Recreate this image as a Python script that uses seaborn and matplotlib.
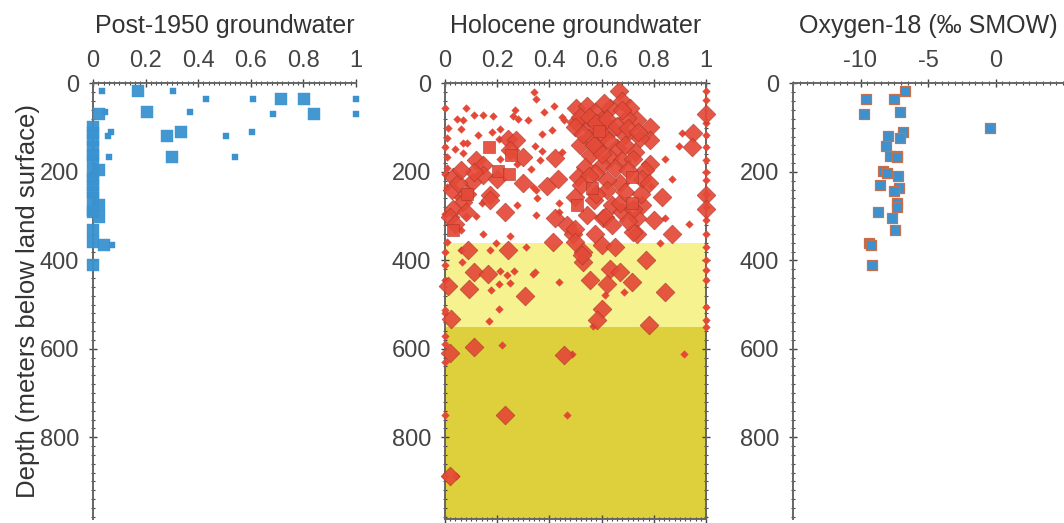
import numpy as np
import pandas as pd
import matplotlib
matplotlib.use("Agg")
import matplotlib.pyplot as plt
import seaborn as sns
from matplotlib.ticker import MultipleLocator

# --- Post-1950 groundwater fraction (squares) ---
post_big_frac = [0.17, 0.714, 0.802, 0.023, 0.207, 0.84, 0.283, 0.336, 0.30,
                 0, 0, 0, 0, 0, 0, 0.024, 0, 0, 0, 0, 0, 0.024, 0, 0.024, 0, 0, 0, 0.04, 0]
post_big_depth = [18, 35, 35, 68, 65, 68, 118, 109, 167,
                  98, 112, 128, 143, 162, 173, 196, 200, 215, 230, 245, 260, 275, 286, 302, 290, 332, 358, 366, 411]
post_small_frac = [0.035, 0.304, 0.43, 0.61, 1.0, 0.046, 0.37, 0.684, 1.0, 0.068, 0.056, 0.504, 0.606,
                   0.061, 0.539, 0.071]
post_small_depth = [18, 18, 35, 35, 35, 65, 65, 68, 68, 109, 118, 118, 109, 167, 167, 366]

# --- Holocene groundwater fraction (diamonds + a few squares) ---
holo_big_frac = [0.243, 0.272, 0.119, 0.147, 0.300, 0.420, 0.147, 0.102, 0.300, 0.392, 0.434, 0.030,
                 0.026, 0.083, 0.070, 0.172, 0.172, 0.230, 0.032, 0.020, 0.420, 0.466, 0.490, 0.413,
                 0.090, 0.243, 0.110, 0.166, 0.093, 0.013, 0.306, 0.022, 0.019, 0.110, 0.456, 0.231, 0.019,
                 0.500, 0.500, 0.668, 0.677, 0.543, 0.575, 0.632, 0.710, 0.734, 0.696, 0.600, 0.517,
                 0.498, 0.556, 0.640, 0.786, 0.786, 0.747, 0.690, 0.607, 0.550, 0.517, 0.588, 0.658,
                 0.728, 0.632, 0.677, 0.556, 0.536, 0.600, 0.786, 0.767, 0.754, 0.671, 0.620, 0.575,
                 0.511, 0.830, 0.498, 0.569, 0.638, 0.677, 0.754, 0.543, 0.607, 0.734, 0.800, 0.498,
                 0.575, 0.734, 0.868, 0.498, 0.600, 0.651, 0.530, 0.772, 0.530, 0.632, 0.671, 0.556,
                 0.619, 0.716, 0.843, 0.600, 0.581, 0.783, 0.951, 0.948, 1.000, 1.000, 1.000,
                 0.613, 0.670, 0.720, 0.720, 0.524,
                 0.55, 0.58, 0.62, 0.66, 0.70, 0.74, 0.63, 0.57, 0.69, 0.72, 0.60, 0.65, 0.70,
                 0.55, 0.62, 0.69, 0.75, 0.52, 0.58, 0.64, 0.70, 0.78, 0.68, 0.61, 0.53,
                 0.05, 0.08, 0.04, 0.11, 0.06, 0.20, 0.25]
holo_big_depth = [126, 128, 173, 185, 166, 169, 207, 222, 226, 232, 216, 211,
                  241, 249, 268, 253, 264, 290, 283, 302, 305, 320, 340, 358,
                  377, 377, 426, 430, 464, 459, 481, 532, 610, 595, 613, 749, 887,
                  56, 86, 18, 39, 52, 64, 56, 56, 83, 79, 83, 75,
                  98, 98, 102, 98, 128, 124, 117, 117, 124, 139, 147, 147,
                  154, 169, 173, 162, 188, 185, 181, 196, 215, 226, 219, 203,
                  211, 256, 256, 264, 275, 290, 275, 298, 305, 305, 309, 328,
                  340, 340, 340, 358, 366, 370, 381, 400, 404, 419, 426, 445,
                  453, 449, 471, 509, 536, 547, 113, 143, 68, 253, 283,
                  302, 271, 283, 336, 388,
                  75, 90, 80, 95, 100, 110, 130, 140, 140, 170, 160, 190, 195,
                  210, 240, 245, 250, 230, 250, 320, 310, 225, 60, 45, 115,
                  225, 290, 318, 200, 195, 215, 150]
holo_sq_frac = [0.17, 0.252, 0.204, 0.247, 0.083, 0.03, 0.716, 0.562, 0.716, 0.505, 0.59]
holo_sq_depth = [143, 162, 197, 205, 249, 332, 211, 237, 271, 275, 108]
holo_small_frac = [0.34, 0.35, 0.08, 0.047, 0.068, 0.11, 0.144, 0.185, 0.27, 0.28, 0.318, 0.38, 0.418,
                   0.01, 0.06, 0.125, 0.18, 0.21, 0.26, 0.41, 0.37, 0.45, 0.455, 0.006, 0.038, 0.07,
                   0.07, 0.083, 0.207, 0.21, 0.345, 0.37, 0.364, 0.33, 0.277, 0.45, 0.006, 0.006, 0.006,
                   0.045, 0.08, 0.12, 0.147, 0.14, 0.277, 0.35, 0.354, 0.35, 0.338, 0.438, 0.438, 0.06,
                   0.006, 0.195, 0.25, 0.31, 0.172, 0.06, 0.064, 0.21, 0.236, 0.264, 0.25, 0.345, 0.336,
                   0.438, 0.175, 0.208, 0.208, 0.17, 0.217, 0, 0, 0, 0, 0.466, 0.042, 0,
                   0, 0, 0, 0, 0, 0, 0, 0, 0,
                   0.907, 0.898, 0.843, 0.868, 0.788, 0.843, 0.936, 0.824, 0.613, 0.687, 0.566, 0.916, 0.485,
                   1, 1, 1, 1, 1, 1, 1, 1, 1, 1, 1, 1, 1, 1, 1, 1, 1, 1, 1]
holo_small_depth = [20, 36, 56, 80, 83, 71, 71, 74, 60, 80, 83, 64, 52,
                    100, 104, 117, 109, 102, 74, 105, 114, 75, 83, 124, 148, 134,
                    157, 134, 126, 171, 141, 152, 173, 194, 181, 154, 166, 192, 234,
                    256, 300, 300, 340, 271, 275, 298, 258, 241, 234, 271, 290, 332,
                    358, 360, 345, 370, 377, 377, 404, 424, 434, 424, 451, 426, 430,
                    449, 468, 453, 509, 537, 592, 445, 513, 589, 749, 749, 887, 887,
                    56, 143, 205, 295, 380, 410, 520, 570, 630,
                    113, 141, 170, 217, 232, 304, 317, 361, 479, 471, 549, 611, 611,
                    18, 37, 90, 117, 143, 173, 200, 219, 249, 279, 309, 340, 370, 400, 422, 445, 505, 536, 551]

# --- Oxygen-18 ---
o18_value = [-6.72, -9.56, -7.53, -9.75, -7.09, -0.42, -6.84, -7.95, -7.09, -8.12, -7.82, -7.28, -7.33,
             -8.32, -8.07, -7.21, -8.57, -7.16, -7.5, -7.26, -7.28, -8.69, -7.70, -7.45, -9.36, -9.24, -9.13]
o18_depth = [18, 36, 36, 68, 65, 101, 109, 118, 124, 142, 164, 164, 167,
             197, 203, 210, 230, 237, 244, 271, 279, 290, 304, 332, 360, 366, 411]

# bands in the Holocene panel
band_light = (360, 550)
band_dark = (550, 985)

blue = "#3A93D0"
red = "#E44937"
red_edge = "#A63326"
txt = "#333333"

sns.set_theme(style="ticks")
plt.rcParams['font.family'] = ['Liberation Sans', 'DejaVu Sans']
plt.rcParams['text.color'] = txt
plt.rcParams['axes.labelcolor'] = txt
plt.rcParams['xtick.color'] = "#444444"
plt.rcParams['ytick.color'] = "#444444"

fig = plt.figure(figsize=(10.64, 5.23), dpi=100)
bot = 1 - 519 / 523
hgt = (519 - 83.5) / 523
ax1 = fig.add_axes([93 / 1064, bot, 263 / 1064, hgt])
ax2 = fig.add_axes([445 / 1064, bot, 261 / 1064, hgt])
ax3 = fig.add_axes([793 / 1064, bot, 270 / 1064, hgt])

post_big = pd.DataFrame({"frac": post_big_frac, "depth": post_big_depth})
post_small = pd.DataFrame({"frac": post_small_frac, "depth": post_small_depth})
sns.scatterplot(data=post_small, x="frac", y="depth", marker="s", s=15, color=blue,
                edgecolor=blue, linewidth=0.3, ax=ax1, clip_on=False, zorder=3, legend=False)
sns.scatterplot(data=post_big, x="frac", y="depth", marker="s", s=70, color=blue, alpha=0.95,
                edgecolor=blue, linewidth=0.3, ax=ax1, clip_on=False, zorder=3, legend=False)

ax2.axhspan(*band_light, color="#F5F28F", lw=0, zorder=0)
ax2.axhspan(*band_dark, color="#DED03C", lw=0, zorder=0)
holo_small = pd.DataFrame({"frac": holo_small_frac, "depth": holo_small_depth})
holo_big = pd.DataFrame({"frac": holo_big_frac, "depth": holo_big_depth})
holo_sq = pd.DataFrame({"frac": holo_sq_frac, "depth": holo_sq_depth})
sns.scatterplot(data=holo_small, x="frac", y="depth", marker="D", s=15, color=red,
                edgecolor=red, linewidth=0.3, ax=ax2, clip_on=False, zorder=3, legend=False)
sns.scatterplot(data=holo_big, x="frac", y="depth", marker="D", s=92, color=red, alpha=0.92,
                edgecolor=red_edge, linewidth=0.4, ax=ax2, clip_on=False, zorder=3, legend=False)
sns.scatterplot(data=holo_sq, x="frac", y="depth", marker="s", s=85, color=red, alpha=0.92,
                edgecolor=red_edge, linewidth=0.4, ax=ax2, clip_on=False, zorder=3, legend=False)

o18 = pd.DataFrame({"o18": o18_value, "depth": o18_depth})
sns.scatterplot(data=o18, x="o18", y="depth", marker="s", s=62, color=blue,
                edgecolor="#C8704E", linewidth=0.9, ax=ax3, clip_on=False, zorder=3, legend=False)

titles = ["Post-1950 groundwater", "Holocene groundwater", "Oxygen-18 (‰ SMOW)"]
for ax, title in zip([ax1, ax2, ax3], titles):
    ax.set_ylim(985, 0)
    ax.xaxis.tick_top()
    ax.xaxis.set_label_position("top")
    ax.set_xlabel(title, fontsize=18, labelpad=12)
    ax.set_ylabel("")
    ax.set_yticks([0, 200, 400, 600, 800])
    ax.yaxis.set_minor_locator(MultipleLocator(20))
    ax.tick_params(which="major", direction="inout", length=6, width=1, labelsize=17, pad=7)
    ax.tick_params(axis="x", which="major", pad=5.5)
    ax.tick_params(which="minor", direction="inout", length=3, width=0.8)
    for sp in ax.spines.values():
        sp.set_color("#666666")
        sp.set_linewidth(1.4)

for ax in [ax1, ax2]:
    ax.set_xlim(0, 1)
    ax.set_xticks([0, 0.2, 0.4, 0.6, 0.8, 1])
    ax.set_xticklabels(["0", "0.2", "0.4", "0.6", "0.8", "1"])
    ax.xaxis.set_minor_locator(MultipleLocator(0.02))

ax3.set_xlim(-15, 5)
ax3.set_xticks([-10, -5, 0])
ax3.set_xticklabels(["-10", "-5", "0"])
ax3.xaxis.set_minor_locator(MultipleLocator(0.5))

for ax in [ax1, ax3]:
    ax.spines["right"].set_visible(False)
    ax.spines["bottom"].set_visible(False)

ax2.tick_params(which="both", top=True, bottom=True, left=True, right=True,
                labelbottom=False, labelright=False)

ax1.set_ylabel("Depth (meters below land surface)", fontsize=18.5, labelpad=0)

fig.savefig("out.png", dpi=100)
